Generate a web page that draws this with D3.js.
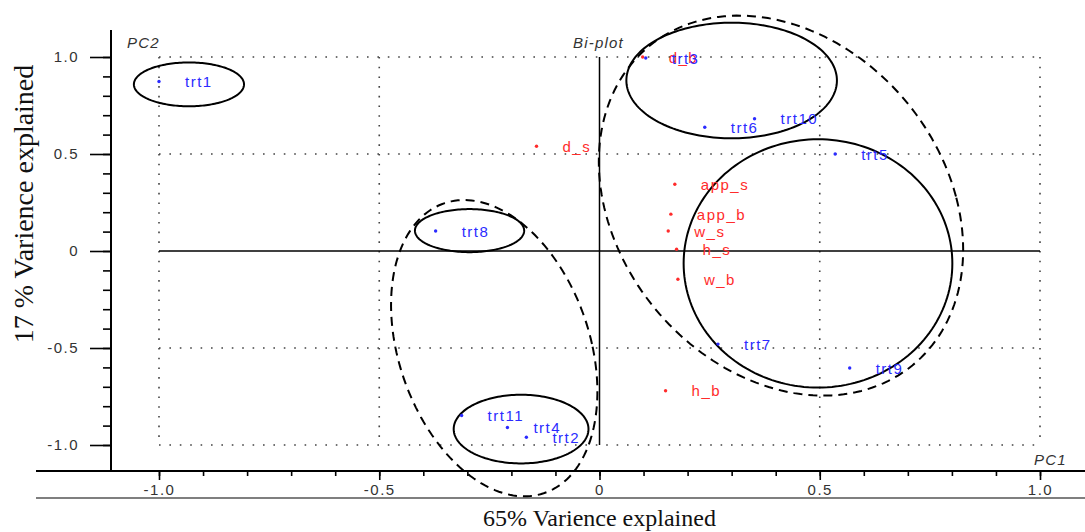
<!DOCTYPE html>
<html lang="en">
<head>
<meta charset="utf-8">
<script src="https://d3js.org/d3.v7.min.js"></script>
<style>
  body { margin: 0; background: #fff; }
  .lbl { font-family: "Liberation Sans", Arial, sans-serif; font-size: 15px; letter-spacing: 1.5px; }
  .note { font-family: "Liberation Sans", Arial, sans-serif; font-size: 15px; font-style: italic; fill: #333; letter-spacing: 1.2px; }
  .tick text { font-family: "Liberation Sans", Arial, sans-serif; font-size: 15px; fill: #333; letter-spacing: 1.5px; }
  .title { font-family: "Liberation Serif", "Times New Roman", serif; fill: #111; }
</style>
</head>
<body>
<div id="chart"></div>
<script>

// treatment scores (blue)
var trtNames = ["trt1", "trt2", "trt3", "trt4", "trt5", "trt6", "trt7", "trt8", "trt9", "trt10", "trt11"];
var trtPC1   = [-1.0, -0.166, 0.105, -0.209, 0.535, 0.239, 0.269, -0.372, 0.568, 0.352, -0.313];
var trtPC2   = [0.874, -0.96, 0.995, -0.91, 0.50, 0.638, -0.48, 0.103, -0.603, 0.682, -0.848];

// variable loadings (red)
var varNames = ["d_b", "d_s", "app_s", "app_b", "w_s", "h_s", "w_b", "h_b"];
var varPC1   = [0.098, -0.143, 0.171, 0.162, 0.156, 0.175, 0.178, 0.15];
var varPC2   = [1.0, 0.54, 0.344, 0.19, 0.103, 0.009, -0.146, -0.72];

// cluster ellipses (data units), rot in degrees
var ringCX   = [-0.932, 0.300, 0.496, -0.295, -0.178, 0.412, -0.239];
var ringCY   = [0.859, 0.879, -0.064, 0.105, -0.918, 0.234, -0.501];
var ringRX   = [0.125, 0.239, 0.305, 0.124, 0.153, 0.400, 0.223];
var ringRY   = [0.113, 0.298, 0.640, 0.111, 0.177, 0.985, 0.767];
var ringRot  = [0, 0, 0, 0, 0, 6.7, 5.6];
var ringDash = [false, false, false, false, false, true, true];

// ticks
var majorTicks = [-1.0, -0.5, 0, 0.5, 1.0];
var minorTicks = [-1.0, -0.9, -0.8, -0.7, -0.6, -0.5, -0.4, -0.3, -0.2, -0.1, 0,
                  0.1, 0.2, 0.3, 0.4, 0.5, 0.6, 0.7, 0.8, 0.9, 1.0];
var gridTicks  = [-1.0, -0.5, 0.5, 1.0];

var W = 1085, H = 532;
var axisX = 111, axisY = 471;

var svg = d3.select("#chart").append("svg")
  .attr("width", W)
  .attr("height", H);

var x = d3.scaleLinear().domain([-1, 1]).range([159, 1040]);
var y = d3.scaleLinear().domain([-1, 1]).range([445, 57]);

var fmt = function(d) { return d === 0 ? "0" : d.toFixed(1); };

// dotted grid
svg.selectAll(".vgrid")
  .data(gridTicks)
  .enter().append("line")
  .attr("x1", function(d) { return x(d); })
  .attr("x2", function(d) { return x(d); })
  .attr("y1", y(1)).attr("y2", y(-1))
  .attr("stroke", "#444").attr("stroke-width", 1.6)
  .attr("stroke-dasharray", "1.6,8.1");

svg.selectAll(".hgrid")
  .data(gridTicks)
  .enter().append("line")
  .attr("y1", function(d) { return y(d); })
  .attr("y2", function(d) { return y(d); })
  .attr("x1", x(-1)).attr("x2", x(1))
  .attr("stroke", "#444").attr("stroke-width", 1.6)
  .attr("stroke-dasharray", "1.6,8.8");

// zero lines
svg.append("line")
  .attr("x1", x(-1)).attr("x2", x(1))
  .attr("y1", y(0)).attr("y2", y(0))
  .attr("stroke", "#000").attr("stroke-width", 1.5);
svg.append("line")
  .attr("x1", x(0)).attr("x2", x(0))
  .attr("y1", y(1)).attr("y2", y(-1))
  .attr("stroke", "#000").attr("stroke-width", 1.5);

// bottom axis
var gx = svg.append("g").attr("transform", "translate(0," + axisY + ")");
gx.call(d3.axisBottom(x).tickValues(minorTicks).tickSize(5).tickFormat(""))
  .select(".domain").remove();
var gx2 = svg.append("g").attr("transform", "translate(0," + axisY + ")");
gx2.call(d3.axisBottom(x).tickValues(majorTicks).tickSize(9).tickPadding(4).tickFormat(fmt))
  .select(".domain").remove();
svg.selectAll("g.tick line").attr("stroke", "#000").attr("stroke-width", 1.6);

svg.append("line")
  .attr("x1", 36).attr("x2", W)
  .attr("y1", axisY).attr("y2", axisY)
  .attr("stroke", "#000").attr("stroke-width", 2);
svg.append("line")
  .attr("x1", 36).attr("x2", W)
  .attr("y1", 498).attr("y2", 498)
  .attr("stroke", "#555").attr("stroke-width", 1.5);

// left axis
var gy = svg.append("g").attr("transform", "translate(" + axisX + ",0)");
gy.call(d3.axisLeft(y).tickValues(minorTicks).tickSize(8).tickFormat(""))
  .select(".domain").remove();
var gy2 = svg.append("g").attr("transform", "translate(" + axisX + ",0)");
gy2.call(d3.axisLeft(y).tickValues(majorTicks).tickSize(21).tickPadding(11).tickFormat(fmt))
  .select(".domain").remove();
svg.selectAll("g.tick line").attr("stroke", "#000").attr("stroke-width", 1.6);
svg.selectAll("g.tick text").attr("fill", "#333");

svg.append("line")
  .attr("x1", axisX).attr("x2", axisX)
  .attr("y1", 30).attr("y2", axisY)
  .attr("stroke", "#000").attr("stroke-width", 2);

// ellipses
var line = d3.line()
  .x(function(p) { return x(p[0]); })
  .y(function(p) { return y(p[1]); })
  .curve(d3.curveLinearClosed);

var steps = d3.range(0, 180);
ringCX.forEach(function(cx, i) {
  var a = ringRot[i] * Math.PI / 180;
  var pts = steps.map(function(k) {
    var t = k / 180 * 2 * Math.PI;
    var u = ringRX[i] * Math.cos(t), v = ringRY[i] * Math.sin(t);
    return [cx + u * Math.cos(a) - v * Math.sin(a), ringCY[i] + u * Math.sin(a) + v * Math.cos(a)];
  });
  svg.append("path")
    .attr("d", line(pts))
    .attr("fill", "none")
    .attr("stroke", "#000")
    .attr("stroke-width", 2)
    .attr("stroke-dasharray", ringDash[i] ? "9,6" : null);
});

// points and labels
var red = "#ff2b2b", blue = "#2b2bff";

function drawSet(names, px, py, color) {
  var g = svg.append("g");
  g.selectAll("circle")
    .data(names)
    .enter().append("circle")
    .attr("cx", function(d, i) { return x(px[i]); })
    .attr("cy", function(d, i) { return y(py[i]); })
    .attr("r", 1.7)
    .attr("fill", color);
  g.selectAll("text")
    .data(names)
    .enter().append("text")
    .attr("class", "lbl")
    .attr("x", function(d, i) { return x(px[i]) + 26; })
    .attr("y", function(d, i) { return y(py[i]); })
    .attr("dy", "0.37em")
    .attr("fill", color)
    .text(function(d) { return d; });
}
drawSet(varNames, varPC1, varPC2, red);
drawSet(trtNames, trtPC1, trtPC2, blue);

// annotations
svg.append("text").attr("class", "note").attr("x", 127).attr("y", 48).text("PC2");
svg.append("text").attr("class", "note").attr("x", 573).attr("y", 48).text("Bi-plot");
svg.append("text").attr("class", "note").attr("x", 1034).attr("y", 465).text("PC1");

// axis titles
svg.append("text")
  .attr("class", "title")
  .attr("x", x(0)).attr("y", 526)
  .attr("text-anchor", "middle")
  .style("font-size", "24px")
  .text("65% Varience explained");

svg.append("text")
  .attr("class", "title")
  .attr("transform", "translate(33,204) rotate(-90)")
  .attr("text-anchor", "middle")
  .style("font-size", "28px")
  .text("17 % Varience explained");

</script>
</body>
</html>
